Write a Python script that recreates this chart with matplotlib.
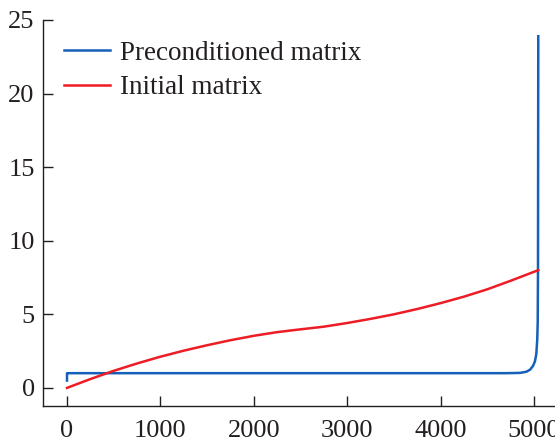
import matplotlib
matplotlib.use("Agg")
import matplotlib.pyplot as plt

plt.rcParams['font.family'] = ['Liberation Serif', 'DejaVu Serif']

# Data
red_x = [0, 250, 500, 750, 1000, 1250, 1500, 1750, 2000, 2250, 2500, 2750, 3000,
         3250, 3500, 3750, 4000, 4250, 4500, 4750, 5046]
red_y = [0.0, 0.6, 1.16, 1.66, 2.12, 2.53, 2.9, 3.24, 3.54, 3.79, 3.98, 4.16, 4.41,
         4.69, 5.0, 5.36, 5.76, 6.2, 6.7, 7.28, 8.0]

blue_x = [0, 0, 10, 1000, 2000, 3000, 4000, 4700, 4850, 4920, 4960, 4990, 5010,
          5025, 5035, 5040, 5043, 5046]
blue_y = [0.5, 1.0, 1.0, 1.0, 1.0, 1.0, 1.0, 1.0, 1.02, 1.1, 1.25, 1.5, 1.8,
          2.3, 3.3, 4.5, 8.0, 23.9]

x_ticks = [0, 1000, 2000, 3000, 4000, 5000]
y_ticks = [0, 5, 10, 15, 20, 25]

fig = plt.figure(figsize=(5.55, 4.41), dpi=100)
W, H = 555, 441
left_px, right_px, top_px, bottom_px = 43, 562, 20, 406
ax = fig.add_axes([left_px / W, (H - bottom_px) / H,
                   (right_px - left_px) / W, (bottom_px - top_px) / H])

ax.plot(blue_x, blue_y, color='#1560b8', lw=1.8, label='Preconditioned matrix',
        solid_joinstyle='round')
ax.plot(red_x, red_y, color='#ee1c25', lw=1.8, label='Initial matrix',
        solid_joinstyle='round')

ax.set_xlim(-257, 5300)
ax.set_ylim(-1.23, 25)
ax.set_xticks(x_ticks)
ax.set_yticks(y_ticks)

for s in ['top', 'right']:
    ax.spines[s].set_visible(False)
for s in ['left', 'bottom']:
    ax.spines[s].set_color('#231f20')
    ax.spines[s].set_linewidth(1.0)
ax.spines['left'].set_bounds(-1.23, 25)

ax.tick_params(axis='both', direction='in', length=7, width=1.0, color='#231f20',
               labelsize=19, labelcolor='#231f20')
ax.tick_params(axis='y', pad=6)
ax.tick_params(axis='x', pad=10)

leg = ax.legend(loc='upper left', frameon=False, fontsize=19.5,
                handlelength=1.7, handletextpad=0.35, labelspacing=0.35,
                bbox_to_anchor=(-0.011, 1.017), borderaxespad=0.6)
for t in leg.get_texts():
    t.set_color('#231f20')

fig.savefig('out.png', dpi=100)
